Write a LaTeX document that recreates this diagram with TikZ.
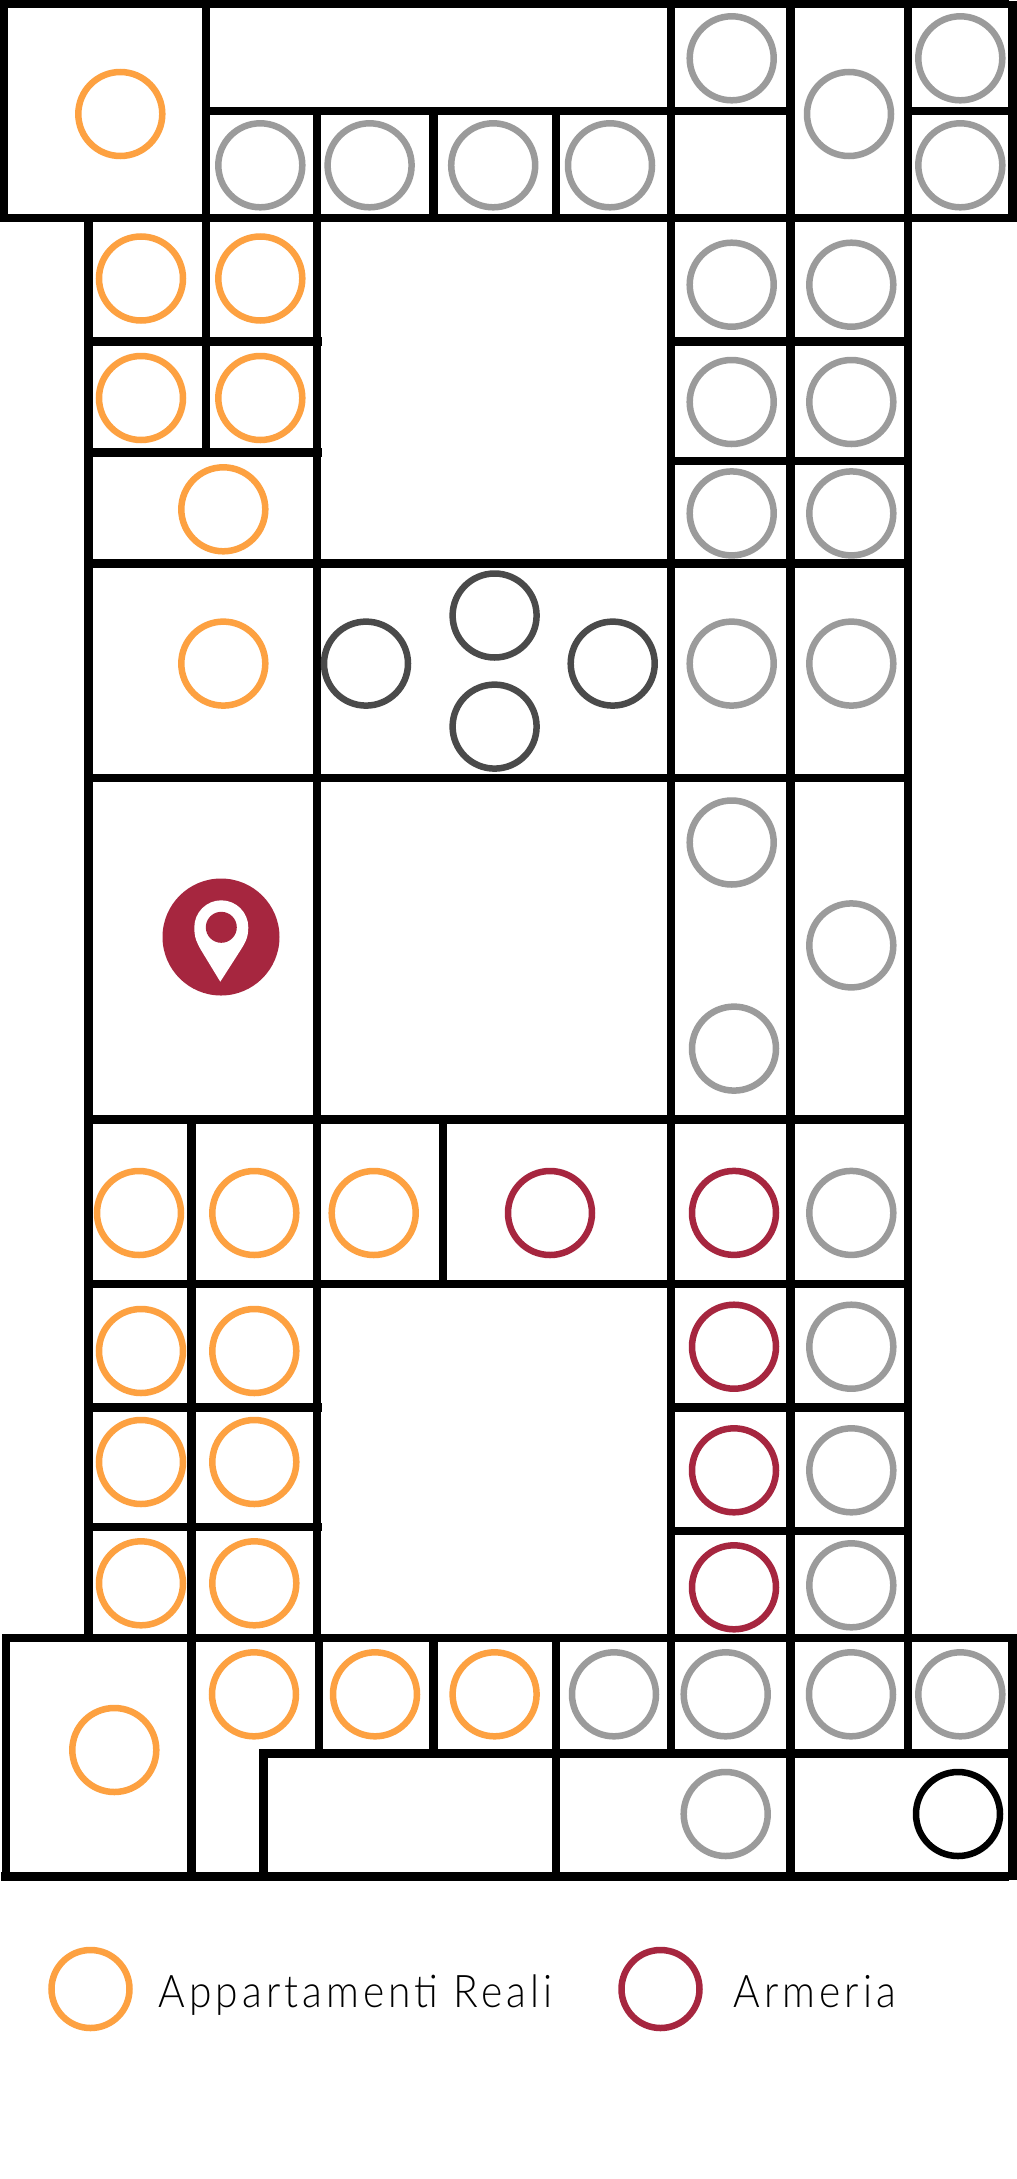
\documentclass[tikz,border=0pt]{standalone}
\usepackage{fontspec}
\setmainfont{Lato Light}[LetterSpace=10]
\definecolor{orangeC}{HTML}{FDA141}
\definecolor{grayC}{HTML}{9B9B9B}
\definecolor{darkC}{HTML}{4A4A4A}
\definecolor{crimsonC}{HTML}{A6263F}
\tikzset{
  wall/.style={draw=black,line width=8.6pt,line cap=rect},
  ring/.style={circle,draw=#1,line width=6.5pt,inner sep=0pt,minimum size=84pt,fill=white},
  legtext/.style={anchor=base west,inner sep=0pt,font=\fontsize{45}{45}\selectfont,xscale=0.905},
}
\begin{document}
\begin{tikzpicture}[x=1pt,y=-1pt]
\useasboundingbox (0,0) rectangle (1017,2179);
\fill[white] (0,0) rectangle (1017,2179);
% vertical walls
\foreach \x/\a/\b in {4/4/218,1012.7/5/218,6/1638/1872,1012.7/1638/1876,206/4/452,317/111/1638,433.5/111/218,556/111/218,671/4/1753,790.5/4/1877,908/4/218,908/218/1753,88.7/218/1638,191.7/1119/1877,443/1119/1284,319/1638/1753,263.3/1753/1877,433.5/1638/1753,556/1638/1877,908/1638/1753}
  \draw[wall] (\x,\a) -- (\x,\b);
% horizontal walls
\foreach \y/\a/\b in {4/4/1004.7,218/4/1004.7,1638/6/1004.7,1876.7/5/1004.7,111/206/790,111/908/1004.7,341.3/88.7/317.5,452.3/88.7/317.5,563.7/88.7/908,777.9/88.7/908,1119.3/88.7/908,341.3/671/908,460.8/671/908,1284/88.7/908,1407.7/88.7/317.5,1527/88.7/317.5,1407.7/671/908,1531/671/908,1753.3/263.3/1004.7}
  \draw[wall] (\a,\y) -- (\b,\y);
% rings
\foreach \x/\y [count=\i] in {120.3/114,141/278.5,260.3/278.5,141/398,260.3/398,223.3/509.3,223.3/663.6,139/1213,254.3/1213,373.7/1213,141/1351,254.3/1351,141/1462,254.3/1462,141/1583.3,254.3/1583.3,114.3/1750,254/1694.3,375/1694.3,494.6/1694.3}
  \node[ring=orangeC] (o\i) at (\x,\y) {};
\foreach \x/\y [count=\i] in {731.7/58.3,849/114,960.3/58.3,960.3/165.3,260.3/165.3,369.6/165.3,493.2/165.3,610/165.3,731.7/284.7,851.3/284.7,731.7/402,851.3/402,731.7/513.4,851.3/513.4,731.7/663.6,851.3/663.6,731.7/842.5,851.3/945.4,734/1048.6,851.3/1212.9,851.3/1346.7,851.3/1470.3,851.3/1585.3,614/1694.3,725.7/1694.3,851/1694.3,960.3/1694.3,725.7/1814}
  \node[ring=grayC] (g\i) at (\x,\y) {};
\foreach \x/\y [count=\i] in {366/663.6,494.6/615.5,612.7/663.6,494.6/726.6}
  \node[ring=darkC] (d\i) at (\x,\y) {};
\foreach \x/\y [count=\i] in {550/1213,734/1212.9,734/1346.7,734/1470.3,734/1587.3}
  \node[ring=crimsonC] (c\i) at (\x,\y) {};
\node[ring=black] (k1) at (958,1814) {};
% pin
\node[circle,fill=crimsonC,draw=none,inner sep=0pt,minimum size=117pt] (pinbg) at (221,937) {};
\fill[white] (220.3,981.7) -- (201,950) .. controls (197,943) and (194.3,938) .. (194.3,927.3)
  arc[start angle=180,end angle=360,radius=27] .. controls (248.3,938) and (245,943) .. (240,951) -- cycle;
\node[circle,fill=crimsonC,draw=none,inner sep=0pt,minimum size=31pt] (pinhole) at (221.3,927.3) {};
% legend
\node[ring=orangeC,minimum size=78pt] (lega) at (90.5,1989) {};
\node[ring=crimsonC,minimum size=78pt] (legb) at (660.5,1989) {};
\node[legtext] (ta) at (158.5,2007) {Appartamenti Reali};
\node[legtext] (tb) at (733.5,2007) {Armeria};
\end{tikzpicture}
\end{document}
